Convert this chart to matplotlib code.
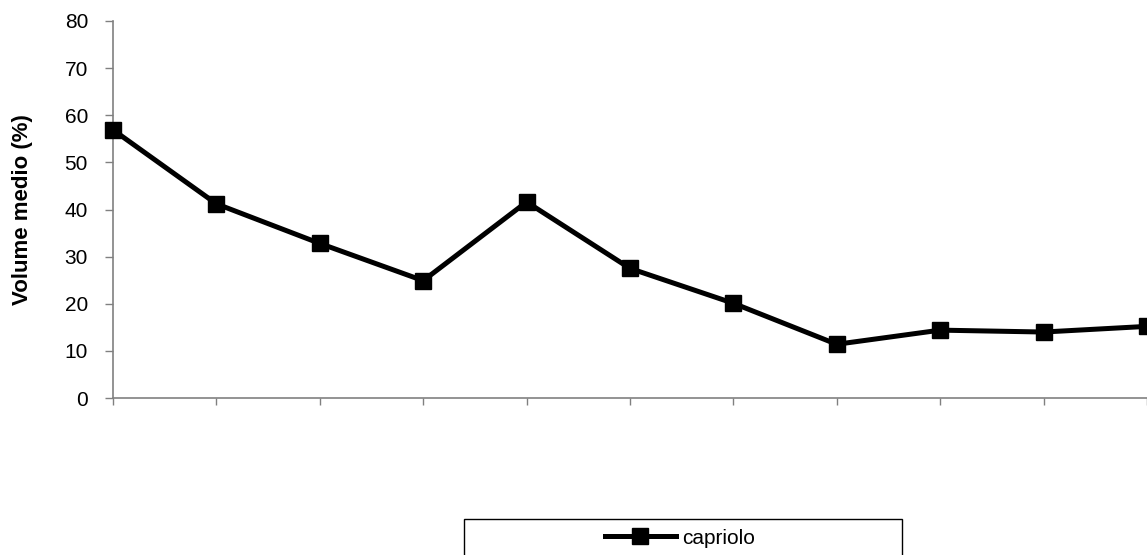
import matplotlib.pyplot as plt
from matplotlib.patches import Rectangle

# Mean volume per sampling step
steps = list(range(11))
volume = [56.9, 41.2, 32.8, 24.9, 41.6, 27.5, 20.1, 11.4, 14.4, 14.0, 15.2]
series_label = 'capriolo'
y_ticks = [0, 10, 20, 30, 40, 50, 60, 70, 80]

plt.rcParams['font.family'] = ['Liberation Sans', 'DejaVu Sans']

fig = plt.figure(figsize=(11.47, 5.55), dpi=100)
ax = fig.add_axes([113 / 1147, 157 / 555, 1034 / 1147, 377 / 555])

line, = ax.plot(steps, volume, color='black', linewidth=3.6, marker='s',
                markersize=11, clip_on=False, label=series_label, zorder=5)

ax.set_xlim(0, 10)
ax.set_ylim(0, 80)
ax.set_yticks(y_ticks)
ax.set_xticks(steps)
ax.set_xticklabels([])
ax.tick_params(axis='y', direction='out', length=6, width=1, color='#808080',
               labelsize=15, pad=12)
ax.tick_params(axis='x', direction='out', length=5, width=1, color='#808080')

for side in ('top', 'right'):
    ax.spines[side].set_visible(False)
for side in ('left', 'bottom'):
    ax.spines[side].set_color('#808080')
    ax.spines[side].set_linewidth(1.2)

ax.set_ylabel('Volume medio (%)', fontsize=16, fontweight='bold')
ax.yaxis.set_label_coords(-80 / 1034, 0.5)

# Legend box running off the bottom edge
fig.patches.append(Rectangle((464 / 1147, -0.05), 438 / 1147, (555 - 519) / 555 + 0.05,
                             transform=fig.transFigure, facecolor='white',
                             edgecolor='black', linewidth=1))
fig.legend(handles=[line], loc='center', bbox_to_anchor=(680 / 1147, (555 - 538) / 555),
           frameon=False, fontsize=15, handlelength=3.4, handletextpad=0.3,
           markerscale=1.0)

fig.savefig('out.png', dpi=100)
